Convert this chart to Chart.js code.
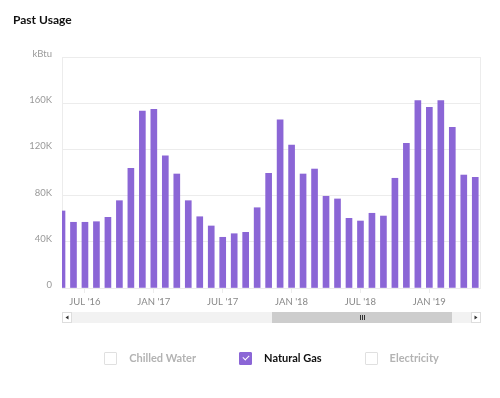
<!DOCTYPE html>
<html>
<head>
<meta charset="utf-8">
<script src="https://cdn.jsdelivr.net/npm/chart.js@4.4.1/dist/chart.umd.min.js"></script>
<style>
  body { margin: 0; background: #fff; font-family: Lato, "Open Sans", sans-serif; }
  #wrap { position: relative; width: 500px; height: 398px; overflow: hidden; }
  #chart { position: absolute; left: 0; top: 0; }
  #title { position: absolute; left: 13px; top: 13px; font-size: 12px; font-weight: 700; color: #111; line-height: 14px; }
  #legend { position: absolute; left: 62px; width: 419px; top: 351px; display: flex; justify-content: center; gap: 43px; }
  .item { display: flex; align-items: center; font-size: 11px; font-weight: 700; color: #b3b3b3; line-height: 14px; }
  .item.on { color: #111; }
  .box { width: 11px; height: 11px; border: 1px solid #e0e0e0; border-radius: 1px; margin-right: 12px; box-sizing: content-box; position: relative; }
  .item.on .box { background: #8b66d6; border-color: #8b66d6; }
  .item.on .box::after { content: ""; position: absolute; left: 3px; top: 2px; width: 5px; height: 3px; border-left: 1.5px solid #fff; border-bottom: 1.5px solid #fff; transform: rotate(-45deg); }
</style>
</head>
<body>
<div id="wrap">
  <canvas id="chart" width="500" height="398"></canvas>
  <div id="title">Past Usage</div>
  <div id="legend"></div>
</div>
<script>
const months = ['May 16', 'Jun 16', 'Jul 16', 'Aug 16', 'Sep 16', 'Oct 16', 'Nov 16', 'Dec 16',
  'Jan 17', 'Feb 17', 'Mar 17', 'Apr 17', 'May 17', 'Jun 17', 'Jul 17', 'Aug 17', 'Sep 17', 'Oct 17', 'Nov 17', 'Dec 17',
  'Jan 18', 'Feb 18', 'Mar 18', 'Apr 18', 'May 18', 'Jun 18', 'Jul 18', 'Aug 18', 'Sep 18', 'Oct 18', 'Nov 18', 'Dec 18',
  'Jan 19', 'Feb 19', 'Mar 19', 'Apr 19', 'May 19'];

// kBtu per month
const naturalGas = [66700, 56900, 56900, 57400, 61200, 75600, 103600, 153200,
  154700, 114500, 98700, 75600, 61700, 53700, 43900, 47000, 48200, 69500, 99300, 145500,
  123800, 98700, 103000, 79400, 77100, 60300, 58000, 64700, 62300, 95000, 125300, 162200,
  156500, 162200, 139100, 97800, 95800];

const tickMonths = ['Jul 16', 'Jan 17', 'Jul 17', 'Jan 18', 'Jul 18', 'Jan 19'];
const tickLabels = ["JUL '16", "JAN '17", "JUL '17", "JAN '18", "JUL '18", "JAN '19"];

const seriesNames = ['Chilled Water', 'Natural Gas', 'Electricity'];
const seriesOn = [false, true, false];

const purple = '#8b66d6';
const gridColor = '#ececec';

// legend with checkboxes
const legend = document.getElementById('legend');
seriesNames.forEach((name, i) => {
  const el = document.createElement('div');
  el.className = 'item' + (seriesOn[i] ? ' on' : '');
  el.innerHTML = '<span class="box"></span>' + name;
  legend.appendChild(el);
});

// plot border + fake navigator scrollbar
const extras = {
  id: 'extras',
  beforeDatasetsDraw(chart) {
    const a = chart.chartArea, c = chart.ctx;
    c.save();
    c.strokeStyle = gridColor;
    c.lineWidth = 1;
    c.strokeRect(a.left + 0.5, a.top + 0.5, a.right - a.left - 1, a.bottom - a.top);
    c.restore();
  },
  afterDraw(chart) {
    const a = chart.chartArea, c = chart.ctx;
    const y = 312, h = 11;
    c.save();
    c.fillStyle = '#f2f2f2';
    c.fillRect(a.left, y, a.right - a.left, h);
    // thumb
    const t0 = 272, t1 = 452;
    c.fillStyle = '#cdcdcd';
    c.fillRect(t0, y, t1 - t0, h);
    c.strokeStyle = '#333';
    c.lineWidth = 1;
    const mid = Math.round((t0 + t1) / 2);
    [-2, 0, 2].forEach(d => {
      c.beginPath();
      c.moveTo(mid + d + 0.5, y + 3);
      c.lineTo(mid + d + 0.5, y + h - 3);
      c.stroke();
    });
    // buttons
    const btn = (x, dir) => {
      c.fillStyle = '#fff';
      c.fillRect(x, y, 10, h);
      c.strokeStyle = '#ddd';
      c.strokeRect(x + 0.5, y + 0.5, 9, h - 1);
      c.fillStyle = '#333';
      c.beginPath();
      const cx = x + 5, cy = y + h / 2;
      c.moveTo(cx + dir * 1.5, cy);
      c.lineTo(cx - dir * 1.5, cy - 2);
      c.lineTo(cx - dir * 1.5, cy + 2);
      c.closePath();
      c.fill();
    };
    btn(a.left, -1);
    btn(a.right - 10, 1);
    c.restore();
  }
};

new Chart(document.getElementById('chart'), {
  type: 'bar',
  data: {
    datasets: [{
      label: 'Natural Gas',
      data: naturalGas.map((v, i) => ({ x: i, y: v })),
      backgroundColor: purple,
      barThickness: 6,
      clip: 0
    }]
  },
  options: {
    responsive: false,
    animation: false,
    layout: { padding: { left: 0, top: 57, right: 19, bottom: 90 } },
    plugins: {
      legend: { display: false },
      tooltip: { enabled: false }
    },
    scales: {
      x: {
        type: 'linear',
        offset: false,
        min: 0,
        max: 36.5,
        afterBuildTicks: (scale) => {
          scale.ticks = tickMonths.map(m => ({ value: months.indexOf(m) }));
        },
        afterFit: (scale) => { scale.height = 20; },
        grid: { offset: false, drawOnChartArea: false, drawTicks: true, tickLength: 5, tickColor: gridColor },
        border: { display: false },
        ticks: {
          autoSkip: false,
          maxRotation: 0,
          padding: 3,
          color: '#888',
          font: { family: 'Lato', size: 9.5 },
          callback: (v, i) => tickLabels[i]
        }
      },
      y: {
        min: 0,
        max: 200000,
        afterFit: (scale) => { scale.width = 62; },
        grid: { color: gridColor, drawTicks: false },
        border: { display: false },
        ticks: {
          stepSize: 40000,
          padding: 10,
          labelOffset: -3,
          color: '#999',
          font: { family: 'Lato', size: 9.5 },
          callback: (v) => v === 200000 ? 'kBtu' : (v === 0 ? '0' : (v / 1000) + 'K')
        }
      }
    }
  },
  plugins: [extras]
});
</script>
</body>
</html>
